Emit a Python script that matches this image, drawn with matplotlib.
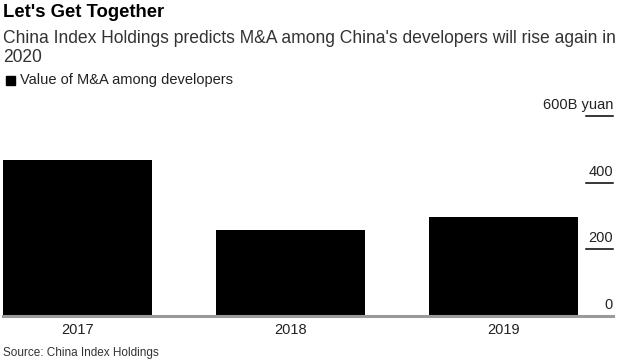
import matplotlib.pyplot as plt
from matplotlib.patches import Rectangle

plt.rcParams['font.family'] = ['Liberation Sans', 'DejaVu Sans']

years = ["2017", "2018", "2019"]
values = [467, 258, 298]
y_ticks = [0, 200, 400, 600]
y_tick_labels = ["0", "200", "400", "600B yuan"]

W, H = 627, 363
fig = plt.figure(figsize=(W / 100, H / 100), dpi=100)
fig.set_facecolor('white')

# axes placed in pixel terms
left, right, bottom, top = 3, 613, 316, 116
ax = fig.add_axes([left / W, 1 - bottom / H, (right - left) / W, (bottom - top) / H])

x = list(range(len(years)))
ax.bar(x, values, width=0.7, color='black', zorder=2)
ax.set_xlim(-0.35, -0.35 + (right - left) / 213)
ax.set_ylim(0, 600)

for s in ax.spines.values():
    s.set_visible(False)
ax.set_xticks([])
ax.set_yticks([])

# baseline
ax.axhline(0, color='#9a9a9a', lw=2.2, zorder=3, clip_on=False)

# right side tick labels with short rules underneath
tick_x0 = (586 - left) / (right - left)
for v, lab in zip(y_ticks, y_tick_labels):
    if v > 0:
        ax.axhline(v, xmin=tick_x0, xmax=1.0, color='black', lw=1.1, clip_on=False)
    ax.annotate(lab, xy=(1.0, v), xycoords=('axes fraction', 'data'),
                xytext=(0, 3), textcoords='offset points',
                ha='right', va='bottom', fontsize=10.5, color='#222222',
                annotation_clip=False)

# category labels
for xi, lab in zip(x, years):
    ax.annotate(lab, xy=(xi, 0), xycoords='data', xytext=(0, -5),
                textcoords='offset points', ha='center', va='top',
                fontsize=10.5, color='#222222', annotation_clip=False)

# header text
fig.text(3 / W, 1 - 4 / H, "Let's Get Together", ha='left', va='top',
         fontsize=13.3, fontweight='bold', color='black')
fig.text(3 / W, 1 - 30 / H,
         "China Index Holdings predicts M&A among China's developers will rise again in\n2020",
         ha='left', va='top', fontsize=12.65, color='#333333', linespacing=1.12)

# legend
fig.patches.append(Rectangle((6 / W, 1 - 85 / H), 9 / W, 9 / H,
                             transform=fig.transFigure, color='black'))
fig.text(20 / W, 1 - 80 / H, "Value of M&A among developers", ha='left',
         va='center', fontsize=10.5, color='#222222')

# source
fig.text(3 / W, 1 - 353 / H, "Source: China Index Holdings", ha='left',
         va='center', fontsize=8.5, color='#333333')

fig.savefig("out.png", dpi=100, facecolor='white')
